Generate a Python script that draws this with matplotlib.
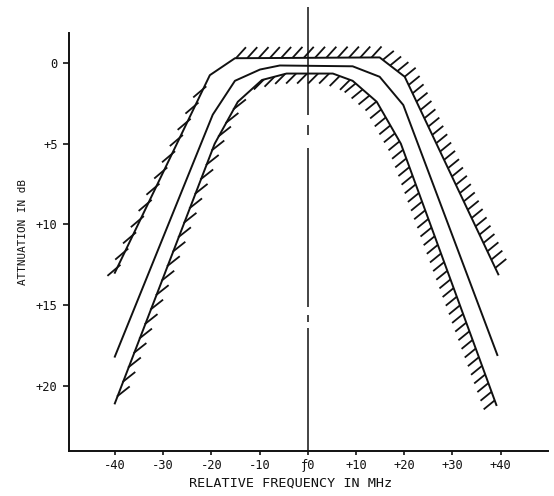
import numpy as np
import matplotlib
matplotlib.use("Agg")
import matplotlib.pyplot as plt
from matplotlib.collections import LineCollection

plt.rcParams['font.family'] = ['DejaVu Sans Mono', 'DejaVu Sans']

# Axis ticks
freq_ticks = [-40, -30, -20, -10, 0, 10, 20, 30, 40]
freq_tick_labels = ["-40", "-30", "-20", "-10", "ƒ0", "+10", "+20", "+30", "+40"]
db_ticks = [0, 5, 10, 15, 20]
db_tick_labels = ["0", "+5", "+10", "+15", "+20"]

# Upper limit of the attenuation mask (hatched on the outside)
upper_mask_mhz = [-40, -20.3, -15.1, 14.9, 20.1, 39.5]
upper_mask_db = [13.0, 0.75, -0.3, -0.35, 0.85, 13.1]

# Nominal filter response
response_mhz = [-40, -19.7, -15.1, -9.9, -5.8, 9.3, 14.9, 19.8, 39.3]
response_db = [18.2, 3.2, 1.1, 0.4, 0.15, 0.2, 0.85, 2.6, 18.1]

# Lower limit of the attenuation mask (hatched on the inside)
lower_mask_mhz = [-40, -19.3, -14.5, -9.5, -4.4, 5.2, 9.3, 14.3, 19.3, 39.1]
lower_mask_db = [21.1, 5.0, 2.4, 1.05, 0.65, 0.65, 1.1, 2.4, 5.0, 21.2]

fig = plt.figure(figsize=(5.54, 4.96), dpi=100)
ax = fig.add_axes([69 / 554, 45 / 496, 479 / 554, 446 / 496])
ax.set_xlim(-49.5, 49.8)
ax.set_ylim(24.05, -3.6)

ink = '#111111'


def hatch(ax, xs, ys, i0, i1, vec, spacing, phase=0.0, back=0.0, lw=1.3):
    """Short parallel strokes along part of a polyline (pixel-based)."""
    pts = ax.transData.transform(np.column_stack([xs[i0:i1 + 1], ys[i0:i1 + 1]]))
    seg_len = np.hypot(*np.diff(pts, axis=0).T)
    cum = np.concatenate([[0.0], np.cumsum(seg_len)])
    v = np.asarray(vec, float)
    u = v / np.hypot(*v)
    inv = ax.transData.inverted()
    segs = []
    for s in np.arange(phase, cum[-1] + 1e-9, spacing):
        k = min(np.searchsorted(cum, s, side='right') - 1, len(seg_len) - 1)
        t = (s - cum[k]) / seg_len[k]
        p = pts[k] + t * (pts[k + 1] - pts[k])
        segs.append(inv.transform([p - back * u, p + v]))
    ax.add_collection(LineCollection(segs, colors=ink, linewidths=lw,
                                     capstyle='butt'))


# Curves
ax.plot(upper_mask_mhz, upper_mask_db, color=ink, lw=1.4)
ax.plot(response_mhz, response_db, color=ink, lw=1.4)
ax.plot(lower_mask_mhz, lower_mask_db, color=ink, lw=1.4)

# Hatching of the upper mask
hatch(ax, upper_mask_mhz, upper_mask_db, 0, 1, (-10, -8.5), 18, phase=6, back=4)
hatch(ax, upper_mask_mhz, upper_mask_db, 2, 3, (10, 11), 11.3, phase=1)
hatch(ax, upper_mask_mhz, upper_mask_db, 3, 5, (11, 9), 9.2, phase=4)

# Hatching of the lower mask
hatch(ax, lower_mask_mhz, lower_mask_db, 0, 2, (12, 9.5), 15.5, phase=8, back=1)
hatch(ax, lower_mask_mhz, lower_mask_db, 3, 6, (-10, -10), 11, phase=2)
hatch(ax, lower_mask_mhz, lower_mask_db, 6, 9, (-11, -9), 9.2, phase=4)

# Centre frequency reference line (broken)
centre_pieces = [(-3.5, 3.2), (3.85, 4.45), (5.25, 15.1), (15.6, 16.05), (16.4, 24.05)]
for lo, hi in centre_pieces:
    ax.plot([0, 0], [lo, hi], color=ink, lw=1.1, solid_capstyle='butt')

# Axes styling
for side in ('top', 'right'):
    ax.spines[side].set_visible(False)
ax.spines['left'].set_bounds(-1.86, 24.05)
ax.spines['left'].set_linewidth(1.4)
ax.spines['bottom'].set_linewidth(1.4)
ax.spines['left'].set_color(ink)
ax.spines['bottom'].set_color(ink)

ax.set_xticks(freq_ticks)
ax.set_xticklabels(freq_tick_labels)
ax.set_yticks(db_ticks)
ax.set_yticklabels(db_tick_labels)
ax.tick_params(axis='both', direction='out', colors=ink, width=1.2, labelsize=8.7)
ax.tick_params(axis='y', length=4.5, pad=3.6)
ax.tick_params(axis='x', length=3, pad=3)

ax.set_xlabel("RELATIVE FREQUENCY IN MHz", fontsize=9.7, color=ink)
ax.set_ylabel("ATTNUATION IN dB", fontsize=7.9, color=ink)
ax.xaxis.set_label_coords(0.463, -0.072)
ax.xaxis.label.set_va('center')
ax.yaxis.set_label_coords(-0.096, 0.491)
ax.yaxis.label.set_va('center')

fig.savefig("out.png", dpi=100, facecolor='white')
